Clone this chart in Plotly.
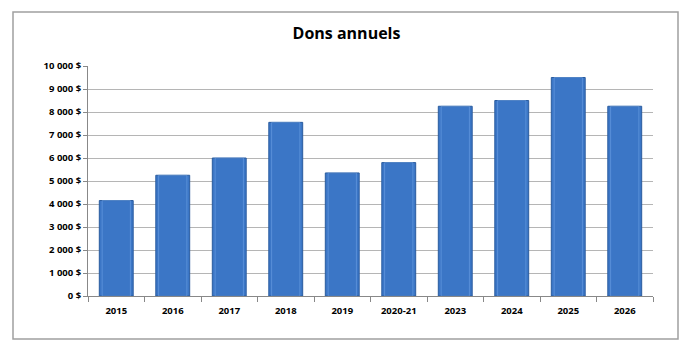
import plotly.graph_objects as go

years = ["2015", "2016", "2017", "2018", "2019", "2020-21", "2023", "2024", "2025", "2026"]
dons = [4150, 5250, 6000, 7550, 5350, 5800, 8250, 8500, 9500, 8250]
tick_vals = [0, 1000, 2000, 3000, 4000, 5000, 6000, 7000, 8000, 9000, 10000]
tick_text = ["0 $", "1 000 $", "2 000 $", "3 000 $", "4 000 $", "5 000 $",
             "6 000 $", "7 000 $", "8 000 $", "9 000 $", "10 000 $"]

W, H = 693, 351
L, R, T, B = 88, 653, 66, 296

fig = go.Figure()
fig.add_trace(go.Bar(
    x=years, y=dons, width=0.6,
    marker=dict(color="#3B76C6", line=dict(color="#2A5C9E", width=1)),
))
# highlight strip to suggest bevel
fig.add_trace(go.Bar(
    x=years, y=dons, width=0.5,
    marker=dict(color="rgba(0,0,0,0)", line=dict(color="rgba(120,170,235,0.5)", width=1)),
    hoverinfo="skip",
))

def px_x(x):
    return (x - L) / (R - L)

def px_y(y):
    return (B - y) / (B - T)

fig.add_shape(type="rect", xref="paper", yref="paper",
              x0=px_x(13), x1=px_x(678), y0=px_y(339), y1=px_y(12),
              line=dict(color="#A0A0A0", width=1.5), layer="below")

fig.update_layout(
    width=W, height=H,
    margin=dict(l=L, r=W - R, t=T, b=H - B),
    paper_bgcolor="white", plot_bgcolor="white",
    showlegend=False, barmode="overlay",
    title=dict(text="<b>Dons annuels</b>", x=0.5, xref="container", y=1 - 33 / H, yanchor="middle",
               xanchor="center", font=dict(family="Open Sans", size=16, color="black")),
    font=dict(family="Open Sans", size=9, color="black"),
)
fig.update_xaxes(
    showline=True, linecolor="#888888", linewidth=1,
    ticks="outside", tickson="boundaries", ticklen=5, tickcolor="#888888",
    tickfont=dict(size=9.5, family="Open Sans", weight="bold"),
    ticklabelstandoff=6,
    showgrid=False,
)
fig.update_yaxes(
    range=[0, 10000], tickvals=tick_vals, ticktext=tick_text,
    showline=True, linecolor="#888888", linewidth=1,
    ticks="outside", ticklen=4, tickcolor="#888888",
    gridcolor="#B5B5B5", gridwidth=1,
    tickfont=dict(size=9.5, family="Open Sans", weight="bold"),
    zeroline=False,
)

fig.write_html("out.html")
